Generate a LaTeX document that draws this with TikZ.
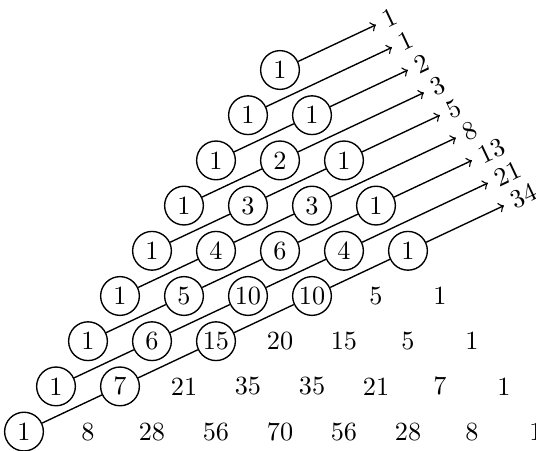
\documentclass[tikz,border=0pt]{standalone}
\begin{document}
\begin{tikzpicture}[x=25.6pt, y=18.08pt, >=to,
    font=\fontsize{10.5pt}{12pt}\selectfont,
    entry/.style={circle, draw, line width=0.55pt, minimum size=15.5pt, inner sep=0pt},
    link/.style={line width=0.55pt}]
  \useasboundingbox (-112pt,-152pt) rectangle (102.4pt,28pt);
  % rows of the triangle, circled where the diagonal sum is taken
  \foreach \row [count=\n from 0] in {{1},{1,1},{1,2,1},{1,3,3,1},{1,4,6,4,1},{1,5,10,10,5,1},{1,6,15,20,15,5,1},{1,7,21,35,35,21,7,1},{1,8,28,56,70,56,28,8,1}} {
    \foreach \v [count=\k from 0] in \row {
      \pgfmathtruncatemacro{\s}{\n+\k}
      \ifnum\s<9
        \node[entry] (p-\n-\k) at (\k-\n/2,-\n) {\v};
      \else
        \node (p-\n-\k) at (\k-\n/2,-\n) {\v};
      \fi
    }
  }
  % links along each diagonal
  \foreach \d in {2,...,8} {
    \pgfmathtruncatemacro{\m}{\d/2-1}
    \foreach \k in {0,...,\m} {
      \pgfmathtruncatemacro{\n}{\d-\k}
      \pgfmathtruncatemacro{\nn}{\n-1}
      \pgfmathtruncatemacro{\kk}{\k+1}
      \draw[link] (p-\n-\k) -- (p-\nn-\kk);
    }
  }
  % arrows with the diagonal sums
  \foreach \f [count=\d from 0] in {1,1,2,3,5,8,13,21,34} {
    \pgfmathtruncatemacro{\k}{\d/2}
    \pgfmathtruncatemacro{\n}{\d-\k}
    \coordinate (t-\d) at (\d/4+1.5,1-\d/2);
    \draw[link,->] (p-\n-\k) -- node[pos=1, sloped, anchor=west] {\f} (t-\d);
  }
\end{tikzpicture}
\end{document}
